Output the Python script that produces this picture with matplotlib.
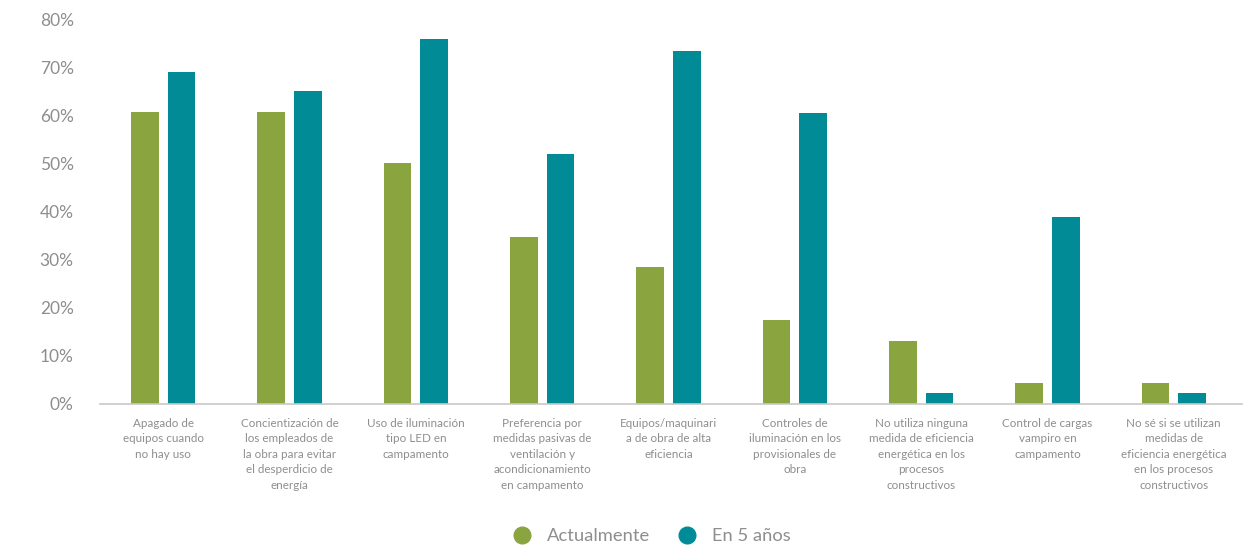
import matplotlib
matplotlib.use("Agg")
import matplotlib.pyplot as plt
from matplotlib.lines import Line2D
import numpy as np

# Energy-efficiency measures: share of respondents today vs. in five years
categories = [
    "Apagado de\nequipos cuando\nno hay uso",
    "Concientización de\nlos empleados de\nla obra para evitar\nel desperdicio de\nenergía",
    "Uso de iluminación\ntipo LED en\ncampamento",
    "Preferencia por\nmedidas pasivas de\nventilación y\nacondicionamiento\nen campamento",
    "Equipos/maquinari\na de obra de alta\neficiencia",
    "Controles de\niluminación en los\nprovisionales de\nobra",
    "No utiliza ninguna\nmedida de eficiencia\nenergética en los\nprocesos\nconstructivos",
    "Control de cargas\nvampiro en\ncampamento",
    "No sé si se utilizan\nmedidas de\neficiencia energética\nen los procesos\nconstructivos",
]
actualmente = [60.6, 60.6, 50.0, 34.6, 28.4, 17.4, 13.0, 4.3, 4.3]
en_5_anos = [69.0, 65.0, 75.8, 52.0, 73.4, 60.5, 2.2, 38.9, 2.2]
series_names = ["Actualmente", "En 5 años"]
y_ticks = [0, 10, 20, 30, 40, 50, 60, 70, 80]

GREEN = "#8aa540"
TEAL = "#018b96"
TEXT = "#8e8e8e"
FONT = "Lato"

fig = plt.figure(figsize=(12.52, 5.48), dpi=100)
ax = fig.add_axes([0.0799, 0.2628, 0.9121, 0.7025])

x = np.arange(len(categories))
width = 0.22
offset = 0.145
ax.bar(x - offset, actualmente, width, color=GREEN, zorder=2)
ax.bar(x + offset, en_5_anos, width, color=TEAL, zorder=2)

ax.set_xlim(-0.5, 8.54)
ax.set_ylim(0, 80)
ax.set_yticks(y_ticks)
ax.set_yticklabels([f"{v}%" for v in y_ticks], fontsize=12.5, color=TEXT,
                   family=FONT)
ax.set_xticks(x)
ax.set_xticklabels(categories, fontsize=8.4, color=TEXT, family=FONT,
                   linespacing=1.5, va="top")

for side in ("top", "right", "left"):
    ax.spines[side].set_visible(False)
ax.spines["bottom"].set_color("#c8c8c8")
ax.spines["bottom"].set_linewidth(1.2)
ax.tick_params(axis="both", length=0)
ax.tick_params(axis="y", pad=19)
ax.tick_params(axis="x", pad=10)

handles = [
    Line2D([], [], marker="o", linestyle="none", markersize=12,
           markerfacecolor=c, markeredgecolor=c)
    for c in (GREEN, TEAL)
]
fig.legend(handles, series_names, loc="center",
           bbox_to_anchor=(647 / 1252, 1 - 536 / 548), ncol=2, frameon=False,
           prop={"family": FONT, "size": 13.2},
           labelcolor=TEXT, handletextpad=0.35, columnspacing=1.0)

fig.savefig("out.png", dpi=100, facecolor="white")
